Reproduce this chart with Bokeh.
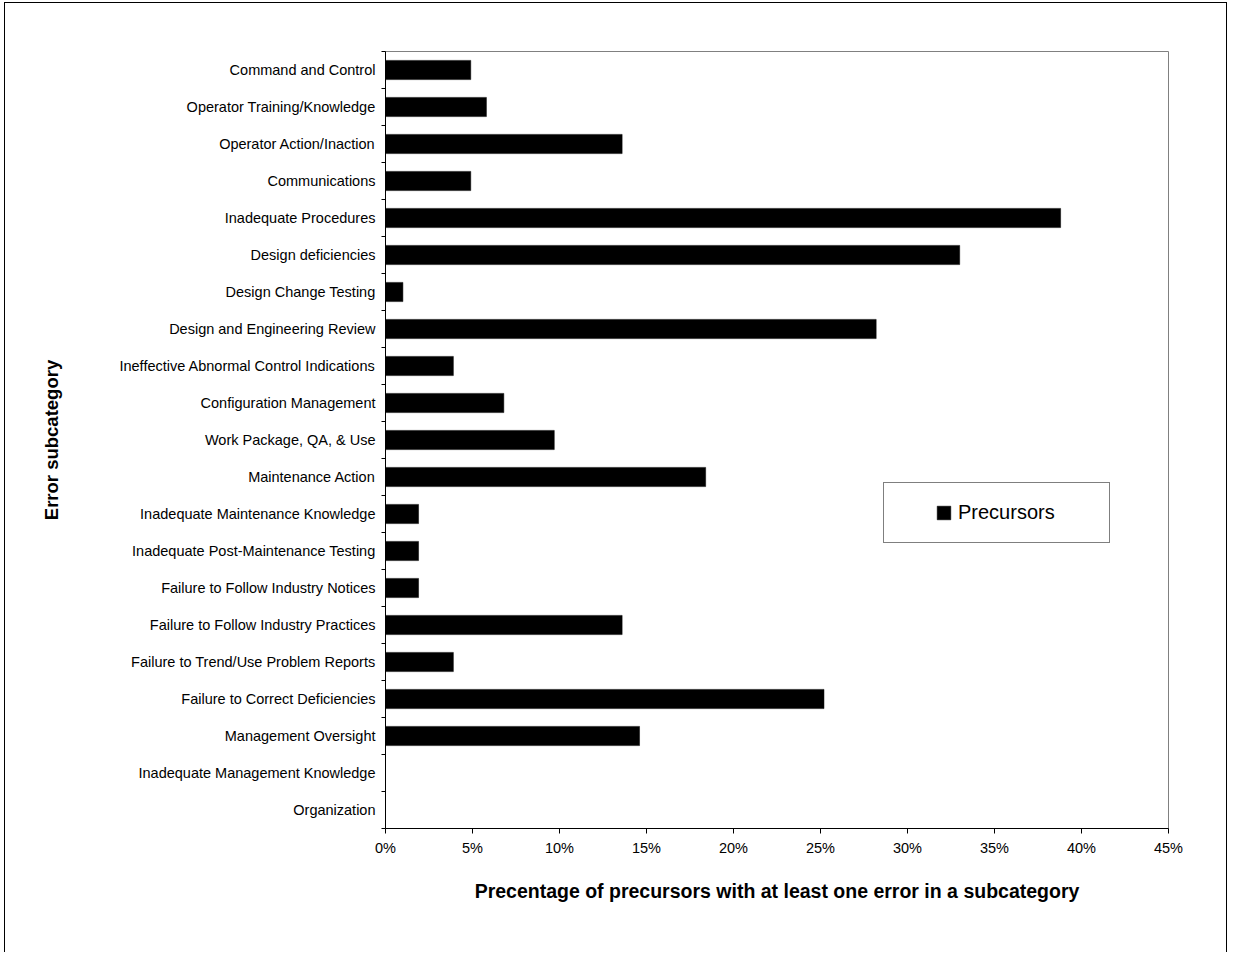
from bokeh.plotting import figure
from bokeh.models import (Range1d, FixedTicker, NumeralTickFormatter, Legend,
                          LegendItem, ColumnDataSource)
from bokeh.embed import file_html
from bokeh.resources import INLINE

# ---- data (top to bottom as shown) ----
categories = [
    "Command and Control",
    "Operator Training/Knowledge",
    "Operator Action/Inaction",
    "Communications",
    "Inadequate Procedures",
    "Design deficiencies",
    "Design Change Testing",
    "Design and Engineering Review",
    "Ineffective Abnormal Control Indications",
    "Configuration Management",
    "Work Package, QA, & Use",
    "Maintenance Action",
    "Inadequate Maintenance Knowledge",
    "Inadequate Post-Maintenance Testing",
    "Failure to Follow Industry Notices",
    "Failure to Follow Industry Practices",
    "Failure to Trend/Use Problem Reports",
    "Failure to Correct Deficiencies",
    "Management Oversight",
    "Inadequate Management Knowledge",
    "Organization",
]
precursors_pct = [4.9, 5.8, 13.6, 4.9, 38.8, 33.0, 1.0, 28.2, 3.9, 6.8, 9.7,
                  18.4, 1.9, 1.9, 1.9, 13.6, 3.9, 25.2, 14.6, 0.0, 0.0]
x_ticks_pct = [0, 5, 10, 15, 20, 25, 30, 35, 40, 45]
series_name = "Precursors"
x_title = "Precentage of precursors with at least one error in a subcategory"
y_title = "Error subcategory"

n = len(categories)
ypos = [n - 1 - i for i in range(n)]
src = ColumnDataSource(dict(y=ypos, v=[v / 100 for v in precursors_pct], cat=categories))

FONT = "Liberation Sans"

p = figure(width=1223, height=950,
           x_range=Range1d(0, x_ticks_pct[-1] / 100),
           y_range=Range1d(-0.5, n - 0.5),
           output_backend="svg", toolbar_location=None,
           min_border_left=380, min_border_top=48,
           min_border_right=60, min_border_bottom=125)
p.styles = {"margin-left": "4px", "margin-top": "2px",
            "border-left": "1px solid black", "border-right": "1px solid black",
            "border-top": "1px solid black"}

r = p.hbar(y="y", right="v", left=0, height=0.52, source=src,
           fill_color="black", line_color="black", line_width=0.5)

p.grid.visible = False
p.outline_line_color = "#808080"
p.outline_line_width = 1
p.background_fill_color = "white"
p.border_fill_color = "white"

# x axis
xa = p.xaxis[0]
xa.ticker = FixedTicker(ticks=[t / 100 for t in x_ticks_pct])
xa.formatter = NumeralTickFormatter(format="0%")
xa.major_tick_out = 5
xa.major_tick_in = 0
xa.minor_tick_out = 0
xa.minor_tick_in = 0
xa.axis_line_color = "black"
xa.major_tick_line_color = "black"
xa.major_label_text_font = FONT
xa.major_label_text_font_size = "14.5px"
xa.major_label_text_color = "black"
xa.major_label_standoff = 6
xa.axis_label = x_title
xa.axis_label_text_font = FONT
xa.axis_label_text_font_style = "bold"
xa.axis_label_text_font_size = "19.5px"
xa.axis_label_text_color = "black"
xa.axis_label_standoff = 21

# y axis: labels at centres, ticks at category boundaries
ya = p.yaxis[0]
ya.ticker = FixedTicker(ticks=ypos, minor_ticks=[k - 0.5 for k in range(n + 1)])
ya.major_label_overrides = {y: c for y, c in zip(ypos, categories)}
ya.major_tick_out = 0
ya.major_tick_in = 0
ya.minor_tick_out = 4
ya.minor_tick_in = 0
ya.minor_tick_line_color = "black"
ya.axis_line_color = "black"
ya.major_label_text_font = FONT
ya.major_label_text_font_size = "14.5px"
ya.major_label_text_color = "black"
ya.major_label_standoff = 6
ya.axis_label = y_title
ya.axis_label_text_font = FONT
ya.axis_label_text_font_style = "bold"
ya.axis_label_text_font_size = "18.5px"
ya.axis_label_text_color = "black"
ya.axis_label_standoff = 54

legend = Legend(items=[LegendItem(label=series_name, renderers=[r])],
                location=(498, 285), orientation="vertical",
                title=" ", title_location="left", title_text_font_size="1px",
                title_standoff=32,
                padding=18, margin=0, spacing=0,
                glyph_width=17, glyph_height=17, label_standoff=6,
                label_height=19, label_width=133,
                label_text_font=FONT, label_text_font_size="20px",
                label_text_color="black",
                border_line_color="black", border_line_width=1,
                background_fill_color="white", background_fill_alpha=1)
p.add_layout(legend, "center")

open("out.html", "w").write(file_html(p, INLINE))
